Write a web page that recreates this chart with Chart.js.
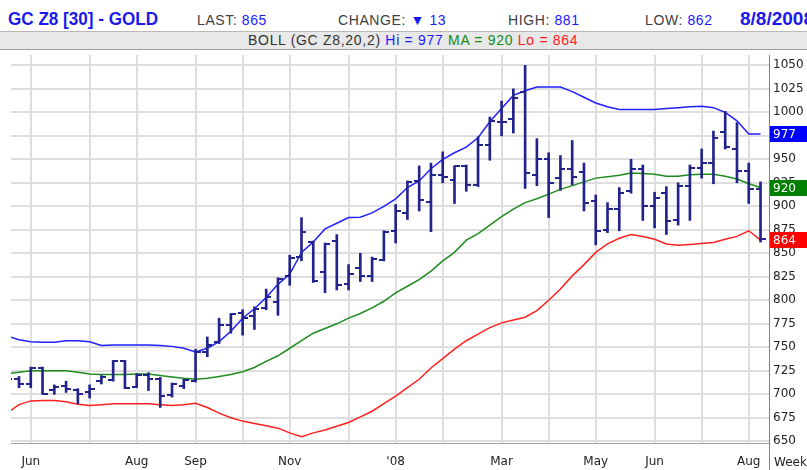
<!DOCTYPE html>
<html lang="en">
  <head>
    <meta charset="UTF-8" />
    <title>GC Z8 [30] - GOLD weekly</title>
    <style>
      html, body { margin: 0; padding: 0; }
      body {
        width: 807px; height: 470px; position: relative; overflow: hidden;
        background: #fff; font-family: "Liberation Sans", Arial, sans-serif;
      }
      .row1 { position: absolute; left: 0; top: 0; width: 807px; height: 31px; background: #fff; border-bottom: 1px solid #b8b8b8; }
      .row2 { position: absolute; left: 0; top: 32px; width: 807px; height: 17px; background: #e8e8e8; border-bottom: 1px solid #9c9c9c; }
      .big { position: absolute; top: 8px; font-size: 19px; line-height: 22px; font-weight: bold; color: #1a1aee; transform: scaleX(0.9); transform-origin: left; white-space: nowrap; }
      .date { transform: none; }
      .item { position: absolute; top: 12px; font-size: 14px; line-height: 16px; letter-spacing: 0.6px; color: #404040; white-space: nowrap; }
      .boll { position: absolute; left: 248px; top: 0; font-size: 14px; line-height: 17px; letter-spacing: 0.7px; color: #333; white-space: nowrap; }
      .blue { color: #1a1aff; }
      .green { color: #178a17; }
      .red { color: #ff1a1a; }
      .chart { position: absolute; left: 0; top: 50px; width: 807px; height: 420px; }
      .week { position: absolute; left: 774px; top: 455px; font: 12px "DejaVu Sans", sans-serif; color: #222; }
    </style>
  </head>
  <body>
    <div class="row1">
      <span class="big" style="left: 8px">GC Z8 [30] - GOLD</span>
      <span class="item" style="left: 197px">LAST: <span class="blue" id="qLast"></span></span>
      <span class="item" style="left: 338px">CHANGE: <span class="blue" id="qChange"></span></span>
      <span class="item" style="left: 508px">HIGH: <span class="blue" id="qHigh"></span></span>
      <span class="item" style="left: 645px">LOW: <span class="blue" id="qLow"></span></span>
      <span class="big date" style="left: 740px" id="qDate"></span>
    </div>
    <div class="row2">
      <span class="boll">BOLL (GC Z8,20,2) <span class="blue" id="bHi"></span> <span class="green" id="bMa"></span> <span class="red" id="bLo"></span></span>
    </div>
    <div class="chart">
      <canvas id="goldChart" width="807" height="420"></canvas>
    </div>
    <div class="week">Week</div>

    <script src="https://cdn.jsdelivr.net/npm/chart.js"></script>
    <script>
      // daily quote shown in the header
      const quoteLast = 865;
      const quoteChange = 13; // down
      const quoteHigh = 881;
      const quoteLow = 862;
      const quoteDate = "8/8/2008";

      // weekly bars, index -1 .. 63 (bar -1 sits just past the left edge)
      const firstWeek = -1;
      const opens = [712, 716, 711, 728, 705, 709, 705, 702, 714, 715, 735, 708, 721, 716, 699, 709, 714, 745, 756, 774,
        786, 783, 792, 798, 826, 846, 862, 830, 863, 817, 834, 826, 843, 874, 893, 927, 905, 933, 928, 943,
        923, 965, 990, 993, 1022, 933, 950, 930, 940, 937, 906, 875, 897, 916, 940, 900, 914, 885, 922, 941,
        946, 979, 961, 938, 918];
      const highs = [720, 719, 729, 729, 710, 714, 706, 710, 720, 736, 736, 722, 723, 718, 712, 716, 748, 761, 781, 786,
        790, 793, 812, 824, 848, 888, 863, 861, 870, 838, 850, 846, 874, 902, 927, 943, 946, 958, 943, 944,
        974, 995, 1012, 1025, 1050, 972, 957, 954, 970, 946, 912, 904, 920, 950, 944, 915, 921, 925, 944, 961,
        980, 1001, 989, 946, 926];
      const lows = [708, 707, 707, 700, 700, 702, 690, 696, 711, 714, 706, 707, 704, 686, 697, 706, 713, 740, 754, 765,
        763, 769, 790, 784, 816, 842, 819, 808, 811, 811, 820, 820, 842, 861, 886, 895, 873, 925, 903, 916,
        921, 949, 975, 978, 919, 922, 888, 917, 923, 895, 859, 872, 874, 914, 885, 877, 870, 880, 885, 930,
        924, 961, 925, 903, 862];
      const closes = [716, 711, 728, 700, 708, 706, 700, 706, 718, 735, 707, 721, 716, 698, 711, 715, 745, 752, 774, 785,
        781, 791, 804, 823, 845, 873, 821, 860, 816, 828, 826, 844, 873, 895, 926, 907, 933, 931, 943, 923,
        965, 991, 990, 1015, 935, 950, 925, 940, 931, 904, 874, 897, 914, 940, 900, 909, 884, 922, 941, 946,
        973, 963, 938, 918, 865];

      // Bollinger (20,2), same weeks
      const bollUpper = [762, 758, 756, 755.5, 755.5, 757, 757, 756, 752, 752.5, 752.5, 752.5, 752.5, 752, 751, 749, 745, 749, 756, 767,
        781, 791, 803, 817, 828, 851, 862, 876, 882, 888, 888.5, 893, 900, 908, 920, 927, 940, 950, 957, 963,
        973, 990, 1004, 1018, 1023, 1027, 1027, 1027, 1022, 1016, 1010, 1006, 1003, 1003, 1003, 1003, 1004, 1005, 1006, 1006.5,
        1005, 1000, 991, 977, 977];
      const bollMid = [722, 723.5, 725, 725, 725, 725, 723.5, 721.5, 721, 721, 721, 721.5, 721.5, 720, 718.5, 717, 716, 717, 719, 721,
        724, 728.5, 735, 741, 749, 757, 765, 770, 775, 781, 786, 792, 799, 808, 815, 822, 831, 842, 851, 864,
        871, 880, 889, 897, 904, 908, 913, 918, 922, 926, 930, 931.5, 933, 935.5, 935, 934, 932, 932, 933.5, 934,
        934, 932, 929, 924, 920];
      const bollLower = [680, 689, 693, 693.5, 693.5, 692, 689.5, 688, 689, 690, 690, 690, 690, 689, 688, 689, 690.5, 686, 680, 675,
        671.5, 669, 666.5, 664, 659, 655, 659, 662, 666, 670, 676, 682, 690, 698, 707, 716, 728, 738, 748, 757,
        764, 771, 776, 779, 782, 789, 800, 812, 826, 838, 851, 860, 866, 870, 868, 865, 860, 858.5, 859.5, 860.5,
        861.5, 865, 868, 874, 864];

      // month gridlines (week index) and their labels
      const monthTickIdx = [1, 6, 10, 15, 19, 23, 28, 32, 36, 41, 45, 49, 54, 58, 62];
      const monthTickLabels = ["Jun", "", "Aug", "Sep", "", "Nov", "", "'08", "", "Mar", "", "May", "Jun", "", "Aug"];
      const priceTicks = [650, 675, 700, 725, 750, 775, 800, 825, 850, 875, 900, 925, 950, 975, 1000, 1025, 1050];

      const barColor = "#23238c";
      const upperColor = "#1f1fff";
      const midColor = "#1e8c1e";
      const lowerColor = "#ff2020";
      const tickFont = { family: "DejaVu Sans", size: 12 };

      // header text
      document.getElementById("qLast").textContent = quoteLast;
      document.getElementById("qChange").textContent = "\u25BC " + quoteChange;
      document.getElementById("qHigh").textContent = quoteHigh;
      document.getElementById("qLow").textContent = quoteLow;
      document.getElementById("qDate").textContent = quoteDate;
      const lastU = bollUpper[bollUpper.length - 1];
      const lastM = bollMid[bollMid.length - 1];
      const lastL = bollLower[bollLower.length - 1];
      document.getElementById("bHi").textContent = "Hi = " + lastU;
      document.getElementById("bMa").textContent = "MA = " + lastM;
      document.getElementById("bLo").textContent = "Lo = " + lastL;

      // small tick images for open (left) and close (right)
      function tickImage(side) {
        const c = document.createElement("canvas");
        c.width = 10;
        c.height = 2;
        const g = c.getContext("2d");
        g.fillStyle = barColor;
        g.fillRect(side === "left" ? 0 : 5, 0, 5, 2);
        return c;
      }

      const xy = (arr) => arr.map((v, i) => ({ x: i + firstWeek, y: v }));

      const bandLine = (label, arr, color) => ({
        type: "line",
        label: label,
        data: xy(arr),
        borderColor: color,
        borderWidth: 1.5,
        pointRadius: 0,
        tension: 0,
        fill: false,
        order: 2,
        clip: 0,
      });

      // value boxes on the right axis + axis line down to the bottom
      const lastValueBoxes = {
        id: "lastValueBoxes",
        afterDraw(chart) {
          const { ctx, chartArea, scales } = chart;
          ctx.save();
          ctx.strokeStyle = "#808080";
          ctx.lineWidth = 1;
          ctx.beginPath();
          ctx.moveTo(chartArea.right + 0.5, chartArea.top);
          ctx.lineTo(chartArea.right + 0.5, chart.height);
          ctx.stroke();
          [[lastU, "#0000ff"], [lastM, "#008000"], [lastL, "#ff0000"]].forEach(([v, col]) => {
            const y = scales.y.getPixelForValue(v);
            ctx.fillStyle = col;
            ctx.fillRect(chartArea.right + 1, Math.round(y) - 8, chart.width - chartArea.right - 1, 16);
            ctx.fillStyle = "#fff";
            ctx.font = "12px 'DejaVu Sans'";
            ctx.textBaseline = "middle";
            ctx.fillText(String(Math.round(v)), chartArea.right + 4, Math.round(y) + 0.5);
          });
          ctx.restore();
        },
      };

      new Chart(document.getElementById("goldChart"), {
        type: "bar",
        data: {
          datasets: [
            {
              type: "bar",
              label: "High-Low",
              data: highs.map((h, i) => ({ x: i + firstWeek, y: [lows[i], h] })),
              backgroundColor: barColor,
              borderWidth: 0,
              barThickness: 2,
              grouped: false,
              order: 0,
              clip: 0,
            },
            {
              type: "line",
              label: "Open",
              data: xy(opens),
              showLine: false,
              pointStyle: tickImage("left"),
              pointRadius: 3,
              order: 0,
            },
            {
              type: "line",
              label: "Close",
              data: xy(closes),
              showLine: false,
              pointStyle: tickImage("right"),
              pointRadius: 3,
              order: 0,
            },
            bandLine("Hi", bollUpper, upperColor),
            bandLine("MA", bollMid, midColor),
            bandLine("Lo", bollLower, lowerColor),
          ],
        },
        options: {
          responsive: false,
          animation: false,
          events: [],
          devicePixelRatio: 1,
          layout: { padding: { left: 11, top: 0, right: 0, bottom: 0 } },
          plugins: { legend: { display: false }, tooltip: { enabled: false } },
          scales: {
            x: {
              type: "linear",
              min: -0.68,
              max: 63.72,
              offset: false,
              grid: { color: "#dedede", lineWidth: 2, drawTicks: false, offset: false },
              border: { display: true, color: "#a0a0a0", width: 1 },
              afterBuildTicks: (s) => { s.ticks = monthTickIdx.map((v) => ({ value: v })); },
              afterFit: (s) => { s.height = 27; s.paddingLeft = 0; s.paddingRight = 0; },
              ticks: {
                autoSkip: false,
                maxRotation: 0,
                padding: 12,
                color: "#222",
                font: tickFont,
                callback: (v) => monthTickLabels[monthTickIdx.indexOf(v)] ?? "",
              },
            },
            y: {
              position: "right",
              min: 648.2,
              max: 1061,
              grid: { color: "#dedede", lineWidth: 2, drawTicks: false },
              border: { display: false },
              afterBuildTicks: (s) => { s.ticks = priceTicks.map((v) => ({ value: v })); },
              afterFit: (s) => { s.width = 38; s.paddingTop = 0; s.paddingBottom = 0; },
              ticks: { padding: 4, color: "#222", font: tickFont, callback: (v) => String(v) },
            },
          },
        },
        plugins: [lastValueBoxes],
      });
    </script>
  </body>
</html>
